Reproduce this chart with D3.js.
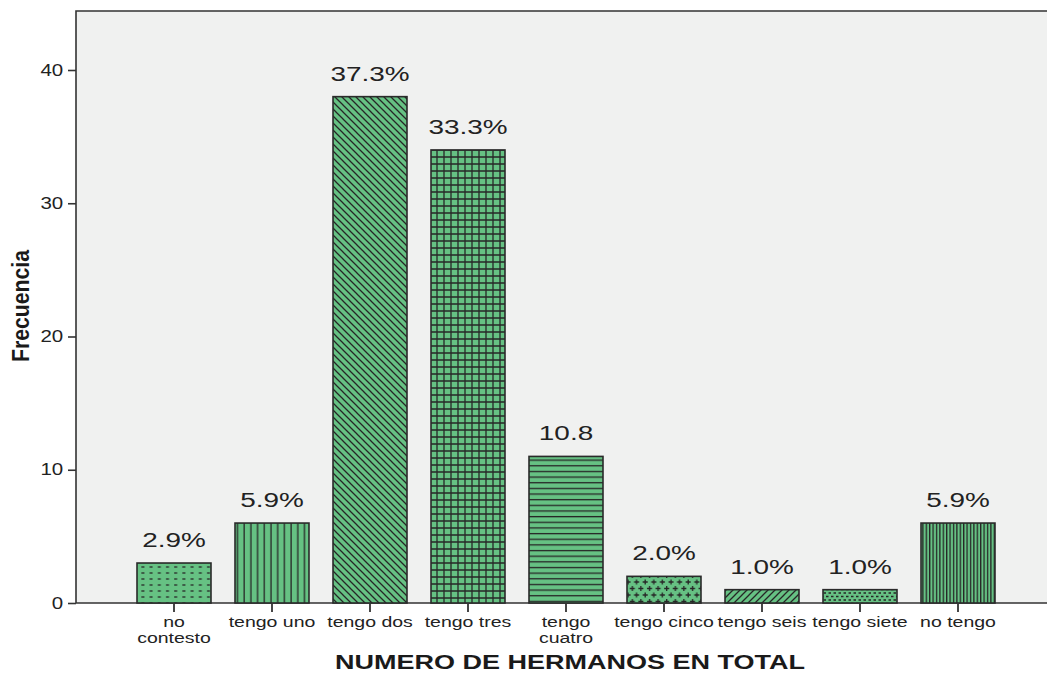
<!DOCTYPE html>
<html><head><meta charset="utf-8">
<script src="https://cdn.jsdelivr.net/npm/d3@7"></script>
<style>body{margin:0;background:#fff}svg{display:block}</style>
</head><body>
<svg id="c" width="1047" height="681"></svg>
<script>
const categories = ["no contesto","tengo uno","tengo dos","tengo tres","tengo cuatro","tengo cinco","tengo seis","tengo siete","no tengo"];
const tickLines = [["no","contesto"],["tengo uno"],["tengo dos"],["tengo tres"],["tengo","cuatro"],["tengo cinco"],["tengo seis"],["tengo siete"],["no tengo"]];
const frecuencia = [3,6,38,34,11,2,1,1,6];
const percentLabels = ["2.9%","5.9%","37.3%","33.3%","10.8","2.0%","1.0%","1.0%","5.9%"];
const yTicks = [0,10,20,30,40];
const patterns = ["dashes","vlines","bslash","grid","hlines","plus","fslash","dots","vdense"];

const svg = d3.select("#c");
const L = 76, T = 11, B = 603, R = 1047;
const FONT = "Liberation Sans, Arial, sans-serif";
const y = d3.scaleLinear().domain([0,40]).range([B,70]);
const x = d3.scaleBand().domain(categories).range([125,1007]).paddingInner(0.245).paddingOuter(0.1225);

const green = "#66c183", ink = "#262626";
const defs = svg.append("defs");
function pat(id,w,h,draw){
  const p = defs.append("pattern").attr("id",id).attr("patternUnits","userSpaceOnUse").attr("width",w).attr("height",h);
  p.append("rect").attr("width",w).attr("height",h).attr("fill",green);
  draw(p);
}
const st = s => s.attr("stroke",ink).attr("stroke-width",1.3).attr("fill","none");
pat("dashes",8.2,6,p=>{st(p.append("path").attr("d","M2,3H5"));});
pat("vlines",6.7,10,p=>{st(p.append("path").attr("d","M3,0V10"));});
pat("bslash",7,7,p=>{st(p.append("path").attr("d","M-1,-1L8,8M-1,6L1,8M6,-1L8,1"));});
pat("grid",7,7,p=>{st(p.append("path").attr("d","M3,0V7M0,3H7"));});
pat("hlines",10,5.65,p=>{st(p.append("path").attr("d","M0,2.5H10"));});
pat("plus",8.6,13,p=>{st(p.append("path").attr("d","M2,3.5H7M4.5,1V6M-2.3,10H2.7M6.3,10H11.3M0.2,7.5V12.5M8.8,7.5V12.5"));});
pat("fslash",7,7,p=>{st(p.append("path").attr("d","M-1,8L8,-1M-1,1L1,-1M6,8L8,6"));});
pat("dots",5,7,p=>{st(p.append("path").attr("d","M1,1.5H3.5M3.5,5H6M-1.5,5H1"));});
pat("vdense",3.4,10,p=>{st(p.append("path").attr("d","M1.5,0V10"));});

// plot background
svg.append("rect").attr("x",L).attr("y",T).attr("width",R-L).attr("height",B-T).attr("fill","#f0f1f0");
svg.append("path").attr("d",`M${R},${T}H${L}V${B}H${R}`).attr("fill","none").attr("stroke","#333").attr("stroke-width",1.6);

// bars
svg.selectAll(".bar").data(categories).join("rect")
  .attr("x",d=>x(d)).attr("width",x.bandwidth())
  .attr("y",(d,i)=>y(frecuencia[i])).attr("height",(d,i)=>B-y(frecuencia[i]))
  .attr("fill",(d,i)=>`url(#${patterns[i]})`).attr("stroke","#2a2a2a").attr("stroke-width",1.6);

// stretched text helper
function stext(px,py,sx,size,anchor){
  return svg.append("text").attr("transform",`translate(${px},${py}) scale(${sx},1)`)
    .attr("text-anchor",anchor||"middle").attr("font-family",FONT).attr("font-size",size).attr("fill","#222");
}

// percent labels
categories.forEach((c,i)=>{
  stext(x(c)+x.bandwidth()/2, y(frecuencia[i])-16, 1.33, 21).text(percentLabels[i]);
});

// y axis
const ya = svg.append("g").attr("transform",`translate(${L},0)`)
  .call(d3.axisLeft(y).tickValues(yTicks).tickSize(8).tickPadding(2).tickFormat(d3.format("d")));
ya.select(".domain").remove();
ya.selectAll("line").attr("stroke","#333").attr("stroke-width",1.6);
ya.selectAll("text").attr("font-family",FONT).attr("font-size",16).attr("fill","#222")
  .attr("transform","scale(1.28,1)");

// x axis
const xa = svg.append("g").attr("transform",`translate(0,${B})`)
  .call(d3.axisBottom(x).tickSize(9).tickFormat(""));
xa.select(".domain").remove();
xa.selectAll("line").attr("stroke","#333").attr("stroke-width",1.8);
categories.forEach((c,i)=>{
  const t = stext(x(c)+x.bandwidth()/2, 627, 1.3, 15);
  tickLines[i].forEach((ln,j)=>t.append("tspan").attr("x",0).attr("dy",j?16.5:0).text(ln));
});

// titles
svg.append("text").attr("x",570).attr("y",669).attr("text-anchor","middle")
  .attr("font-family",FONT).attr("font-weight","bold")
  .attr("font-size",19.5).attr("fill","#1a1a1a").attr("textLength",470).attr("lengthAdjust","spacingAndGlyphs")
  .text("NUMERO DE HERMANOS EN TOTAL");
svg.append("text").attr("transform","translate(29,306) rotate(-90)").attr("text-anchor","middle")
  .attr("font-family",FONT).attr("font-weight","bold")
  .attr("font-size",24).attr("fill","#1a1a1a").attr("textLength",112).attr("lengthAdjust","spacingAndGlyphs")
  .text("Frecuencia");
</script>
</body></html>
